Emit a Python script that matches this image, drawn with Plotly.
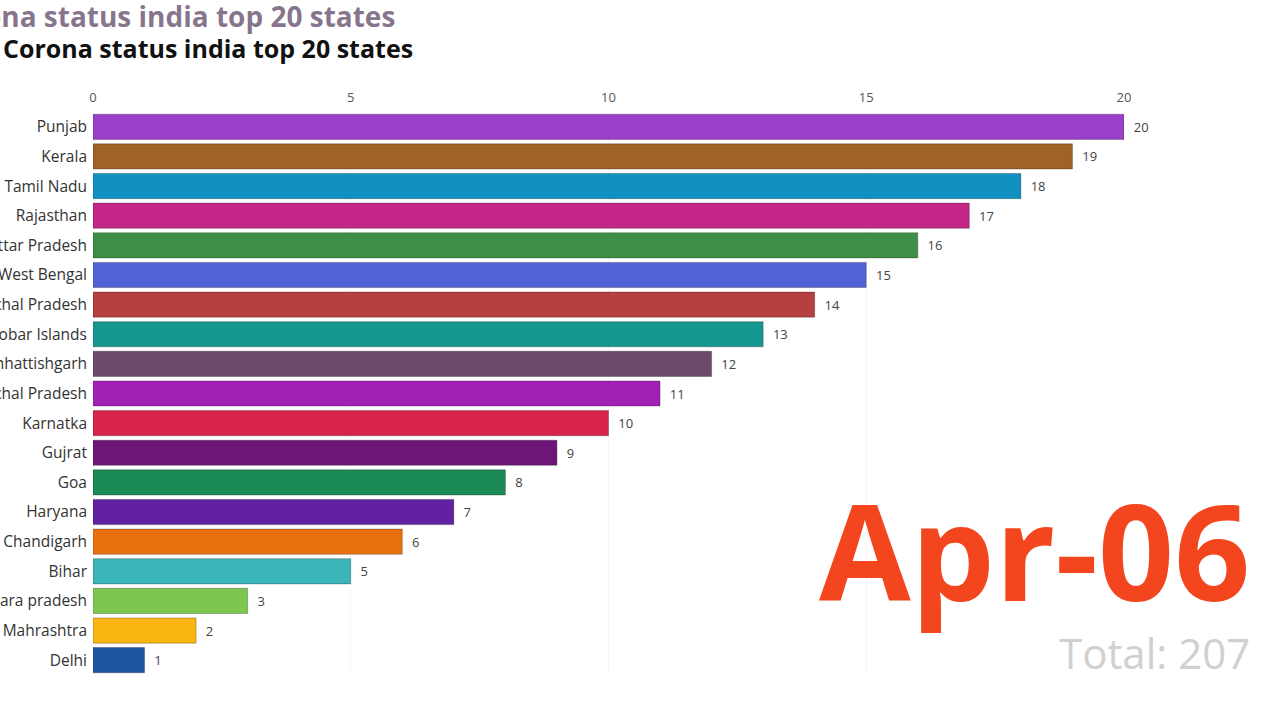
import plotly.graph_objects as go

states = ["Punjab", "Kerala", "Tamil Nadu", "Rajasthan", "Uttar Pradesh", "West Bengal",
          "Himachal Pradesh", "Andaman and Nicobar Islands", "Chhattishgarh", "Arunachal Pradesh",
          "Karnatka", "Gujrat", "Goa", "Haryana", "Chandigarh", "Bihar", "Andhara pradesh",
          "Mahrashtra", "Delhi"]
values = [20, 19, 18, 17, 16, 15, 14, 13, 12, 11, 10, 9, 8, 7, 6, 5, 3, 2, 1]
colors = ["#9a40c8", "#9f6328", "#1190c2", "#c42688", "#3f8e47", "#5262d6",
          "#b5403f", "#15978f", "#6b4a6c", "#a021b4", "#d8234a", "#6e1677",
          "#1b8a56", "#6121a0", "#e8700f", "#3cb5b8", "#7dc64f", "#fbb511", "#1f56a2"]
x_ticks = [0, 5, 10, 15, 20]
title_text = "Corona status india top 20 states"
date_label = "Apr-06"
total_label = "Total: 207"

fig = go.Figure(go.Bar(
    x=values, y=states, orientation="h",
    marker=dict(color=colors, line=dict(color="rgba(0,0,0,0.25)", width=1)),
    text=values, texttemplate="\u00a0\u00a0%{text}", textposition="outside", cliponaxis=False,
    textfont=dict(family="Open Sans", size=13, color="#444"),
))

fig.update_layout(
    width=1280, height=720,
    margin=dict(l=93, r=156, t=112, b=45),
    paper_bgcolor="white", plot_bgcolor="white",
    showlegend=False, bargap=0.15,
    xaxis=dict(range=[0, 20], side="top", tickvals=x_ticks, showgrid=True,
               gridcolor="#f6f6f6", zeroline=False, showline=False, ticklabelstandoff=6,
               tickfont=dict(family="Open Sans", size=13, color="#555"), automargin=False),
    yaxis=dict(autorange="reversed", showgrid=False, automargin=False, ticks="",
               ticklabelstandoff=5,
               tickfont=dict(family="Open Sans", size=15.5, color="#333")),
    annotations=[
        dict(text="<b>" + title_text + "</b>", xref="paper", yref="paper", x=0, y=1,
             xanchor="right", yanchor="middle", showarrow=False,
             font=dict(family="Open Sans", size=28, color="rgba(80,55,90,0.7)"),
             xshift=304, yshift=96),
        dict(text="<b>" + title_text + "</b>", xref="paper", yref="paper", x=0, y=1,
             xanchor="left", yanchor="middle", showarrow=False,
             font=dict(family="Open Sans", size=25, color="#111"),
             xshift=-92, yshift=64),
        dict(text="<b>" + date_label + "</b>", xref="paper", yref="paper", x=1, y=0,
             xanchor="right", yanchor="bottom", showarrow=False,
             font=dict(family="Open Sans", size=133, color="#f4461e"),
             xshift=128, yshift=33),
        dict(text=total_label, xref="paper", yref="paper", x=1, y=0,
             xanchor="right", yanchor="bottom", showarrow=False,
             font=dict(family="Open Sans", size=42, color="#d0d0d0"),
             xshift=128, yshift=-8),
    ],
)

fig.write_html("out.html")
